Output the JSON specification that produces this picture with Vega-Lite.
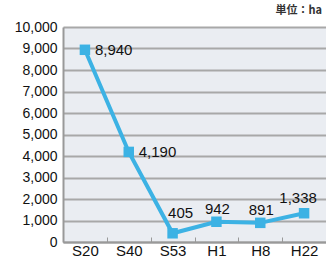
{
  "$schema": "https://vega.github.io/schema/vega-lite/v6.json",
  "autosize": {"type": "none"},
  "width": 263,
  "height": 215,
  "padding": {"left": 63, "top": 27, "right": 0, "bottom": 21},
  "background": "#ffffff",
  "title": {"text": "単位：ha", "anchor": "end", "frame": "group", "fontSize": 11, "fontWeight": "bold", "font": "Noto Sans CJK JP", "color": "#333333", "offset": 4, "dx": -4},
  "data": {"values": [
    {"period": "S20", "area": 8940, "label": "8,940", "pos": "right"},
    {"period": "S40", "area": 4190, "label": "4,190", "pos": "right"},
    {"period": "S53", "area": 405, "label": "405", "pos": "upright"},
    {"period": "H1", "area": 942, "label": "942", "pos": "up"},
    {"period": "H8", "area": 891, "label": "891", "pos": "up"},
    {"period": "H22", "area": 1338, "label": "1,338", "pos": "upleft"}
  ]},
  "encoding": {
    "x": {"field": "period", "type": "nominal", "sort": null,
      "scale": {"type": "band", "paddingInner": 0, "paddingOuter": 0},
      "axis": {"title": null, "labelAngle": 0, "labelFont": "Liberation Sans", "labelFontSize": 15, "labelColor": "#111111", "tickBand": "extent", "tickSize": -5, "tickColor": "#999999", "tickWidth": 1, "domainColor": "#999999", "domainWidth": 2, "labelPadding": 6, "grid": false}},
    "y": {"field": "area", "type": "quantitative",
      "scale": {"domain": [0, 10000]},
      "axis": {"title": null, "values": [0,1000,2000,3000,4000,5000,6000,7000,8000,9000,10000], "format": ",d", "labelFont": "Liberation Sans", "labelFontSize": 14, "labelColor": "#111111", "tickSize": 0, "labelPadding": 6, "domainColor": "#999999", "domainWidth": 2, "gridColor": "#a8a8a8", "gridWidth": 2}}
  },
  "layer": [
    {"mark": {"type": "line", "color": "#3cb2e4", "strokeWidth": 4}},
    {"mark": {"type": "square", "color": "#3cb2e4", "opacity": 1, "size": 110}},
    {"transform": [{"filter": "datum.pos == 'right'"}],
     "mark": {"type": "text", "align": "left", "baseline": "middle", "dx": 10, "font": "Liberation Sans", "fontSize": 15, "color": "#111111"},
     "encoding": {"text": {"field": "label"}}},
    {"transform": [{"filter": "datum.pos == 'upright'"}],
     "mark": {"type": "text", "align": "center", "baseline": "middle", "dx": 8, "dy": -20, "font": "Liberation Sans", "fontSize": 15, "color": "#111111"},
     "encoding": {"text": {"field": "label"}}},
    {"transform": [{"filter": "datum.pos == 'up'"}],
     "mark": {"type": "text", "align": "center", "baseline": "middle", "dx": 1, "dy": -13, "font": "Liberation Sans", "fontSize": 15, "color": "#111111"},
     "encoding": {"text": {"field": "label"}}},
    {"transform": [{"filter": "datum.pos == 'upleft'"}],
     "mark": {"type": "text", "align": "center", "baseline": "middle", "dx": -6, "dy": -15, "font": "Liberation Sans", "fontSize": 15, "color": "#111111"},
     "encoding": {"text": {"field": "label"}}}
  ],
  "config": {"view": {"fill": "#eaedf2", "stroke": null}}
}
